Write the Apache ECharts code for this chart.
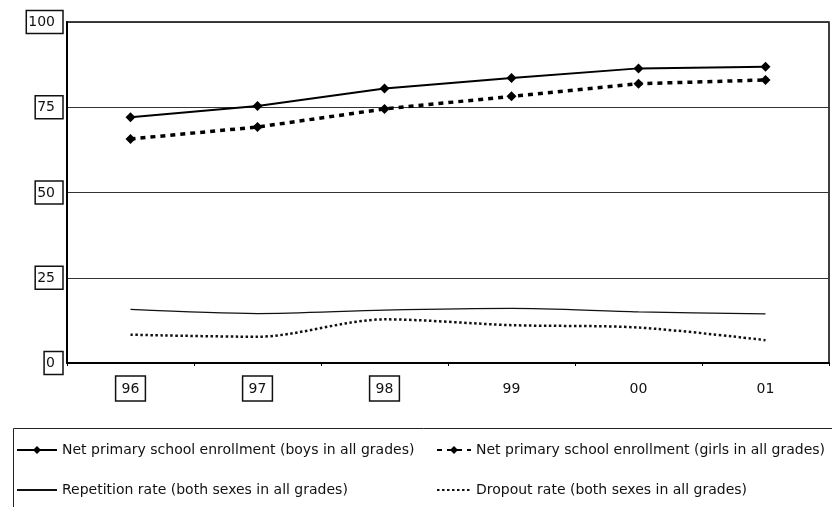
<!DOCTYPE html>
<html>
<head>
<meta charset="utf-8">
<script src="https://cdn.jsdelivr.net/npm/echarts@6/dist/echarts.min.js"></script>
<style>
html,body{margin:0;padding:0;background:#fff;}
#c{width:832px;height:507px;}
</style>
</head>
<body>
<div id="c"></div>
<script>
const categories = ['96', '97', '98', '99', '00', '01'];
const boys = [72.1, 75.4, 80.5, 83.6, 86.4, 86.9];
const girls = [65.7, 69.2, 74.5, 78.2, 81.9, 83.0];
const repetition = [15.7, 14.5, 15.5, 16.0, 15.0, 14.4];
const dropout = [8.3, 7.7, 12.8, 11.1, 10.4, 6.7];
const yTicks = [0, 25, 50, 75, 100];

const names = [
  'Net primary school enrollment (boys in all grades)',
  'Net primary school enrollment (girls in all grades)',
  'Repetition rate (both sexes in all grades)',
  'Dropout rate (both sexes in all grades)'
];

const FONT = '"DejaVu Sans", Verdana, sans-serif';
const chart = echarts.init(document.getElementById('c'), null, {renderer: 'canvas'});

function legendAt(name, left, top, itemWidth, hideSymbol) {
  const l = {
    data: [name], left: left, top: top, padding: 0,
    itemWidth: itemWidth, itemHeight: 10, itemGap: 0,
    textStyle: {fontFamily: FONT, fontSize: 14, color: '#111', padding: [0, 0, 0, 0]},
    selectedMode: false
  };
  if (hideSymbol) l.itemStyle = {opacity: 0};
  return l;
}

chart.setOption({
  animation: false,
  backgroundColor: '#fff',
  grid: {left: 67, right: 3, top: 22, bottom: 144, show: true, borderColor: '#000', borderWidth: 1.5, backgroundColor: 'transparent'},
  xAxis: {
    type: 'category', data: categories, boundaryGap: true,
    axisLine: {lineStyle: {color: '#000', width: 2}},
    axisTick: {show: true, length: 3, lineStyle: {color: '#000', width: 1}},
    axisLabel: {
      margin: 13, fontFamily: FONT, fontSize: 14, color: '#111',
      formatter: function (v, i) { return i < 3 ? '{b|' + v + '}' : '{n|' + v + '}'; },
      rich: {
        b: {fontFamily: FONT, fontSize: 14, color: '#111', borderColor: '#111', borderWidth: 1.5, padding: [6, 6, 5, 6]},
        n: {fontFamily: FONT, fontSize: 14, color: '#111', padding: [6, 6, 5, 6]}
      }
    }
  },
  yAxis: {
    type: 'value', min: 0, max: 100, interval: 25,
    axisLine: {show: true, lineStyle: {color: '#000', width: 2}},
    axisTick: {show: false},
    splitLine: {show: true, lineStyle: {color: '#333', width: 1}},
    axisLabel: {
      margin: 4, fontFamily: FONT, fontSize: 14, color: '#111',
      formatter: function (v) { return yTicks.indexOf(v) >= 0 ? '{b|' + v + '}' : ''; },
      rich: {
        b: {fontFamily: FONT, fontSize: 14, color: '#111', borderColor: '#111', borderWidth: 1.5, padding: [5, 8, 4, 2]}
      }
    }
  },
  legend: [
    legendAt(names[0], 16, 443, 40, false),
    legendAt(names[1], 436, 443, 34, false),
    legendAt(names[2], 16, 483, 40, true),
    legendAt(names[3], 436, 483, 34, true)
  ],
  graphic: [{
    type: 'rect', left: 11, top: 426, z: 0,
    shape: {width: 840, height: 100},
    style: {fill: 'none', stroke: '#222', lineWidth: 1}
  }],
  series: [
    {
      name: names[0], type: 'line', data: boys,
      symbol: 'diamond', symbolSize: 10, showSymbol: true,
      lineStyle: {color: '#000', width: 2, type: 'solid'},
      itemStyle: {color: '#000'}
    },
    {
      name: names[1], type: 'line', data: girls,
      symbol: 'diamond', symbolSize: 10, showSymbol: true,
      lineStyle: {color: '#000', width: 3.5, type: [5, 5]},
      itemStyle: {color: '#000'}
    },
    {
      name: names[2], type: 'line', data: repetition,
      symbol: 'none', smooth: 0.3,
      lineStyle: {color: '#111', width: 1.2, type: 'solid'},
      itemStyle: {color: '#111'}
    },
    {
      name: names[3], type: 'line', data: dropout,
      symbol: 'none', smooth: 0.3,
      lineStyle: {color: '#111', width: 2.5, type: [2.5, 2.5]},
      itemStyle: {color: '#111'}
    }
  ]
});
</script>
</body>
</html>
